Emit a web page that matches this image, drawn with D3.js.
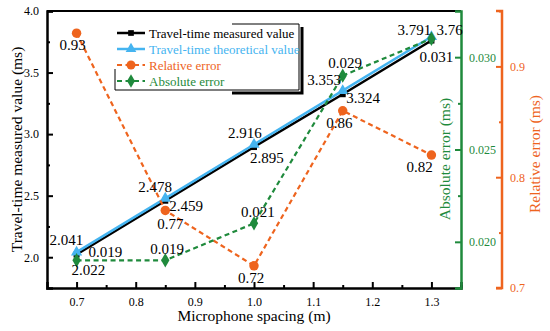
<!DOCTYPE html>
<html>
<head>
<meta charset="utf-8">
<script src="https://cdn.jsdelivr.net/npm/d3@7"></script>
<style>
  body { margin: 0; background: #fff; }
  svg text { font-family: "Liberation Serif", "Times New Roman", serif !important; }
</style>
</head>
<body>
<svg id="chart" width="550" height="331"></svg>
<script>
"use strict";

// data
const spacing = [0.7, 0.85, 1.0, 1.15, 1.3];
const measured = [2.022, 2.459, 2.895, 3.324, 3.76];
const theoretical = [2.041, 2.478, 2.916, 3.353, 3.791];
const relError = [0.93, 0.77, 0.72, 0.86, 0.82];
const absError = [0.019, 0.019, 0.021, 0.029, 0.031];

const measuredText = ["2.022", "2.459", "2.895", "3.324", "3.76"];
const theoreticalText = ["2.041", "2.478", "2.916", "3.353", "3.791"];
const relText = ["0.93", "0.77", "0.72", "0.86", "0.82"];
const absText = ["0.019", "0.019", "0.021", "0.029", "0.031"];

const xTicks = [0.7, 0.8, 0.9, 1.0, 1.1, 1.2, 1.3];
const yTicks = [2.0, 2.5, 3.0, 3.5, 4.0];
const absTicks = [0.020, 0.025, 0.030];
const relTicks = [0.7, 0.8, 0.9];

// label offsets (px) from each point
const measuredOff = [[-5, 20], [4, 10.5], [-4, 16], [3.5, 9], [5, -5.5]];
const theoreticalOff = [[-27, -7], [-27, -6], [-26, -6], [-35.5, -5.6], [-34, -1.7]];
const relOff = [[-17, 17], [-8, 19], [-16, 17], [-16.5, 17.5], [-25, 16.5]];
const absOff = [[12, -3.5], [-15, -6.5], [-13, -6], [-14.5, -7.5], [-12, 23]];

const BLUE = "#45b4f0", ORANGE = "#ee641e", GREEN = "#1f8a3c";

const mLeft = 47, mRight = 461, mTop = 11, mBottom = 288;
const svg = d3.select("#chart");

const x = d3.scaleLinear().domain([0.65, 1.35]).range([mLeft, mRight]);
const y = d3.scaleLinear().domain([1.75, 4.0]).range([mBottom, mTop]);
const yAbs = d3.scaleLinear().domain([0.0175, 0.0325]).range([mBottom, mTop]);
const yRel = d3.scaleLinear().domain([0.7, 0.95]).range([mBottom, mTop]);

function translate(a, b) { return "translate(" + a + "," + b + ")"; }

// frame
svg.append("line").attr("x1", mLeft).attr("x2", mRight).attr("y1", mTop).attr("y2", mTop)
  .attr("stroke", "#000").attr("stroke-width", 2);

// x axis
const xAxis = svg.append("g").attr("transform", translate(0, mBottom))
  .call(d3.axisBottom(x).tickValues(xTicks).tickSize(-6).tickPadding(9).tickFormat(d3.format(".1f")));
xAxis.selectAll(".tick line").attr("stroke-width", 2);
svg.append("g").attr("transform", translate(0, mBottom))
  .call(d3.axisBottom(x).tickValues(d3.range(0.75, 1.35, 0.1)).tickSize(-3).tickFormat(""))
  .call(g => g.select(".domain").remove())
  .selectAll(".tick line").attr("stroke-width", 2);

// left axis
const yAxis = svg.append("g").attr("transform", translate(mLeft, 0))
  .call(d3.axisLeft(y).tickValues(yTicks).tickSize(-6).tickPadding(8).tickFormat(d3.format(".1f")));
yAxis.selectAll(".tick line").attr("stroke-width", 2);
svg.append("g").attr("transform", translate(mLeft, 0))
  .call(d3.axisLeft(y).tickValues([2.25, 2.75, 3.25, 3.75]).tickSize(-3).tickFormat(""))
  .call(g => g.select(".domain").remove())
  .selectAll(".tick line").attr("stroke-width", 2);

[xAxis, yAxis].forEach(a => {
  a.attr("font-family", null).attr("font-size", 12);
  a.select(".domain").attr("stroke-width", 2.5);
});

// absolute error axis
const absAxis = svg.append("g").attr("transform", translate(mRight, 0))
  .call(d3.axisRight(yAbs).tickValues(absTicks).tickSize(-6).tickPadding(8).tickFormat(d3.format(".3f")))
  .attr("font-family", null).attr("font-size", 12);
svg.append("g").attr("transform", translate(mRight, 0))
  .call(d3.axisRight(yAbs).tickValues([0.0175, 0.0225, 0.0275]).tickSize(-3).tickFormat(""))
  .call(g => g.select(".domain").remove())
  .selectAll(".tick line").attr("stroke", GREEN).attr("stroke-width", 2);
absAxis.select(".domain").attr("stroke", GREEN).attr("stroke-width", 2.5);
absAxis.selectAll(".tick line").attr("stroke", GREEN).attr("stroke-width", 2);
absAxis.selectAll("text").attr("fill", GREEN);

// relative error axis
const relX = 502;
const relAxis = svg.append("g").attr("transform", translate(relX, 0))
  .call(d3.axisRight(yRel).tickValues(relTicks).tickSize(-6).tickPadding(8).tickFormat(d3.format(".1f")))
  .attr("font-family", null).attr("font-size", 12);
svg.append("g").attr("transform", translate(relX, 0))
  .call(d3.axisRight(yRel).tickValues([0.75, 0.85, 0.95]).tickSize(-3).tickFormat(""))
  .call(g => g.select(".domain").remove())
  .selectAll(".tick line").attr("stroke", ORANGE).attr("stroke-width", 2);
relAxis.select(".domain").attr("stroke", ORANGE).attr("stroke-width", 2.5)
  .attr("d", "M-6," + mTop + "H0V" + mBottom + "H-6");
relAxis.selectAll(".tick line").attr("stroke", ORANGE).attr("stroke-width", 2);
relAxis.selectAll("text").attr("fill", ORANGE);

// axis titles
svg.append("text").attr("x", (mLeft + mRight) / 2).attr("y", 321).attr("text-anchor", "middle")
  .attr("font-size", 15.5).text("Microphone spacing (m)");
svg.append("text").attr("transform", translate(22, (mTop + mBottom) / 2) + " rotate(-90)")
  .attr("text-anchor", "middle").attr("font-size", 15.5).text("Travel-time measured value (ms)");
svg.append("text").attr("transform", translate(450, 159) + " rotate(-90)")
  .attr("text-anchor", "middle").attr("font-size", 15.5).attr("fill", GREEN).text("Absolute error (ms)");
svg.append("text").attr("transform", translate(540, 154) + " rotate(-90)")
  .attr("text-anchor", "middle").attr("font-size", 15.5).attr("fill", ORANGE).text("Relative error (ms)");

// series
const series = [
  { vals: measured, scale: y, color: "#000", dash: null, width: 2.5, marker: d3.symbolSquare, size: 36, text: measuredText, off: measuredOff },
  { vals: theoretical, scale: y, color: BLUE, dash: null, width: 2.5, marker: d3.symbolTriangle, size: 55, text: theoreticalText, off: theoreticalOff },
  { vals: relError, scale: yRel, color: ORANGE, dash: "5,3.5", width: 2.2, marker: d3.symbolCircle, size: 70, text: relText, off: relOff },
  { vals: absError, scale: yAbs, color: GREEN, dash: "5,3.5", width: 2.2, marker: d3.symbolDiamond, size: 60, text: absText, off: absOff }
];

series.forEach(s => {
  const line = d3.line().x((d, i) => x(spacing[i])).y(d => s.scale(d));
  svg.append("path").datum(s.vals).attr("d", line).attr("fill", "none")
    .attr("stroke", s.color).attr("stroke-width", s.width)
    .attr("stroke-dasharray", s.dash);
  svg.append("g").selectAll("path").data(s.vals).join("path")
    .attr("transform", (d, i) => translate(x(spacing[i]), s.scale(d)))
    .attr("d", d3.symbol(s.marker, s.size)).attr("fill", s.color);
});

series.forEach(s => {
  svg.append("g").selectAll("text").data(s.vals).join("text")
    .attr("x", (d, i) => x(spacing[i]) + s.off[i][0])
    .attr("y", (d, i) => s.scale(d) + s.off[i][1])
    .attr("font-size", 15).attr("fill", "#000")
    .text((d, i) => s.text[i]);
});

// legend
const lg = svg.append("g");
lg.append("path").attr("d", "M232,93H302V27").attr("fill", "none").attr("stroke", "#000").attr("stroke-width", 3);
lg.append("path").attr("d", "M232,24H299V90H115V69").attr("fill", "none").attr("stroke", "#000").attr("stroke-width", 1);
const legendItems = [
  { name: "Travel-time measured value", s: series[0] },
  { name: "Travel-time theoretical value", s: series[1] },
  { name: "Relative error", s: series[2] },
  { name: "Absolute error", s: series[3] }
];
legendItems.forEach((it, i) => {
  const yy = 33 + i * 16;
  lg.append("line").attr("x1", 117).attr("x2", 145).attr("y1", yy).attr("y2", yy)
    .attr("stroke", it.s.color).attr("stroke-width", it.s.width).attr("stroke-dasharray", it.s.dash);
  lg.append("path").attr("transform", translate(131, yy)).attr("d", d3.symbol(it.s.marker, it.s.size * 0.9))
    .attr("fill", it.s.color);
  lg.append("text").attr("x", 149).attr("y", yy + 4.5).attr("font-size", 13)
    .attr("fill", i === 0 ? "#000" : it.s.color).text(it.name);
});
</script>
</body>
</html>
